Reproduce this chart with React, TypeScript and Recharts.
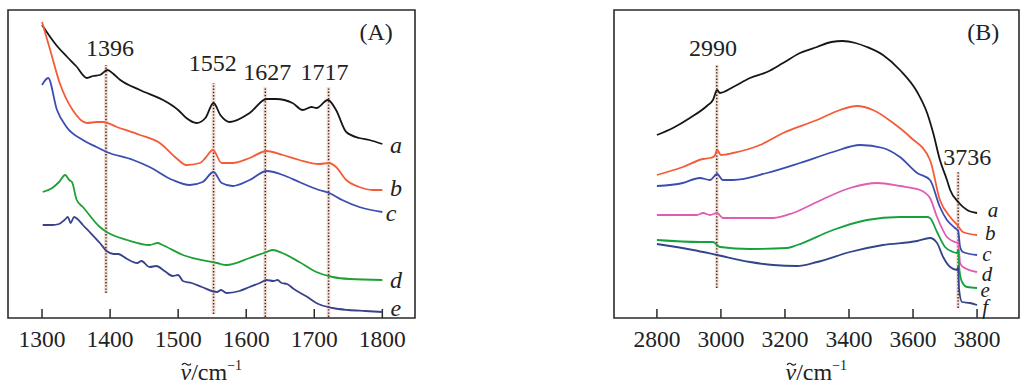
import React from 'react';
import { LineChart, Line, XAxis, YAxis, ReferenceLine, ReferenceDot, ReferenceArea } from 'recharts';

const FONT = '"Liberation Serif","Times New Roman",Times,serif';

// ---------- Panel A (1300-1800 cm-1) ----------
const ticksA = [1300, 1400, 1500, 1600, 1700, 1800];
const A_a: [number, number][] = [[1300,293],[1312,281],[1322,272],[1337,261],[1350,252],[1366,240],[1375,242],[1385,243],[1396,248],[1405,244],[1415,238],[1444,228],[1483,216],[1500,208],[1512,200],[1527,195],[1540,200],[1552,215],[1562,203],[1576,196],[1605,205],[1630,219],[1644,219],[1668,215],[1683,208],[1696,211],[1703,210],[1720,218],[1732,208],[1747,186],[1766,180],[1781,178],[1800,174]];
const A_b: [number, number][] = [[1300,296],[1312,268],[1326,235],[1345,208],[1366,195],[1380,196],[1390,196],[1410,191],[1444,183],[1473,175],[1497,160],[1512,153],[1532,155],[1540,160],[1551,168],[1564,155],[1580,155],[1605,160],[1630,167],[1654,163],[1678,158],[1707,154],[1722,155],[1732,151],[1747,138],[1766,131],[1786,128],[1800,128]];
const A_c: [number, number][] = [[1300,233],[1309,240],[1322,208],[1336,191],[1360,178],[1380,171],[1395,166],[1434,158],[1458,151],[1492,138],[1517,133],[1536,136],[1552,146],[1564,135],[1580,132],[1605,138],[1630,147],[1654,143],[1678,136],[1707,128],[1722,125],[1741,118],[1766,111],[1800,106]];
const A_d: [number, number][] = [[1301,126],[1315,130],[1325,136],[1334,143],[1340,138],[1344,136],[1351,118],[1360,111],[1385,91],[1395,86],[1425,78],[1458,73],[1470,75],[1477,73],[1507,63],[1557,55],[1571,53],[1605,60],[1630,66],[1639,68],[1653,65],[1678,56],[1703,46],[1727,41],[1752,39],[1800,38]];
const A_e: [number, number][] = [[1301,93],[1315,93],[1325,94],[1333,98],[1338,101],[1342,95],[1347,101],[1352,99],[1360,93],[1370,86],[1385,75],[1395,67],[1405,64],[1412,64],[1425,59],[1440,55],[1446,57],[1458,51],[1468,52],[1480,47],[1492,42],[1500,43],[1507,37],[1520,35],[1535,31],[1557,26],[1563,28],[1571,25],[1590,27],[1605,31],[1620,35],[1630,38],[1640,37],[1646,38],[1652,35],[1660,34],[1670,29],[1690,21],[1703,15],[1727,10],[1750,8],[1775,7],[1800,6]];
const peaksA = [
  { text: '1396', x: 1394, y1: 25, y2: 253, lx: 1400, ly: 270 },
  { text: '1552', x: 1552, y1: 4, y2: 235, lx: 1551, ly: 255 },
  { text: '1627', x: 1628, y1: 1, y2: 231, lx: 1631, ly: 246 },
  { text: '1717', x: 1721, y1: 1, y2: 231, lx: 1715, ly: 246 },
];
const curveLabelsA = [
  { t: 'a', x: 1820, y: 173 },
  { t: 'b', x: 1820, y: 130 },
  { t: 'c', x: 1813, y: 105 },
  { t: 'd', x: 1820, y: 38 },
  { t: 'e', x: 1820, y: 10 },
];

// ---------- Panel B (2800-3800 cm-1) ----------
const ticksB = [2800, 3000, 3200, 3400, 3600, 3800];
const B_a: [number, number][] = [[2800,183],[2850,190],[2903,200],[2956,212],[2975,218],[2988,228],[2997,225],[3038,231],[3091,240],[3144,246],[3194,255],[3247,265],[3300,271],[3345,276],[3380,277],[3420,275],[3456,271],[3506,263],[3559,248],[3613,226],[3644,205],[3663,185],[3684,158],[3706,138],[3716,128],[3741,116],[3769,108],[3800,105]];
const B_b: [number, number][] = [[2800,143],[2881,151],[2944,159],[2966,160],[2980,162],[2988,168],[3000,163],[3038,165],[3122,173],[3194,185],[3300,198],[3372,208],[3425,212],[3475,208],[3538,195],[3591,181],[3653,158],[3684,118],[3716,101],[3738,93],[3756,86],[3800,83]];
const B_c: [number, number][] = [[2800,132],[2881,135],[2934,140],[2966,138],[2988,144],[3006,138],[3038,138],[3144,145],[3247,155],[3350,166],[3435,173],[3506,170],[3559,161],[3613,145],[3653,138],[3684,111],[3706,98],[3731,90],[3741,87],[3747,71],[3756,66],[3800,63]];
const B_d: [number, number][] = [[2800,103],[2925,103],[2944,105],[2966,103],[2988,105],[3006,100],[3091,100],[3163,100],[3225,105],[3300,116],[3403,130],[3488,135],[3559,132],[3622,128],[3653,120],[3675,101],[3706,81],[3731,76],[3741,75],[3747,55],[3756,51],[3800,46]];
const B_e: [number, number][] = [[2800,78],[2934,76],[2975,76],[2997,71],[3091,69],[3206,70],[3238,73],[3350,88],[3456,98],[3559,101],[3644,101],[3653,100],[3675,86],[3700,71],[3725,66],[3738,65],[3741,68],[3744,51],[3753,36],[3769,31],[3800,30]];
const B_f: [number, number][] = [[2800,74],[2913,68],[2988,63],[3091,56],[3163,53],[3238,52],[3300,56],[3403,66],[3506,73],[3613,77],[3653,80],[3675,75],[3694,61],[3716,51],[3738,48],[3741,51],[3744,28],[3753,16],[3778,15],[3800,13]];
const peaksB = [
  { text: '2990', x: 2987, y1: 30, y2: 253, lx: 2975, ly: 270 },
  { text: '3736', x: 3741, y1: 10, y2: 146, lx: 3769, ly: 161 },
];
const curveLabelsB = [
  { t: 'a', x: 3850, y: 108 },
  { t: 'b', x: 3841, y: 85 },
  { t: 'c', x: 3831, y: 64 },
  { t: 'd', x: 3831, y: 44 },
  { t: 'e', x: 3825, y: 28 },
  { t: 'f', x: 3825, y: 11 },
];

const Y_DOMAIN: [number, number] = [0, 308];
const toPts = (arr: [number, number][]) => arr.map(([wn, v]) => ({ wn, v }));

const INK = '#2a2a2a';

const TickLabel = (props: any) => {
  const { x, y, payload } = props;
  return (
    <text x={x} y={y + 29} textAnchor="middle" fontFamily={FONT} fontSize={23.5} fill="#222">
      {payload.value}
    </text>
  );
};

const AxisTitle = (props: any) => {
  const vb = props.viewBox || { x: 0, y: 0, width: 0, height: 0 };
  const cx = vb.x + vb.width / 2;
  const by = vb.y + 62;
  const sx = cx - 31;
  const tx = sx + 6;
  const ty = by - 16;
  return (
    <g>
      <text x={sx} y={by} textAnchor="start" fontFamily={FONT} fontSize={24} fill="#222">
        <tspan fontStyle="italic">{'\u03BD'}</tspan>
        <tspan>/cm</tspan>
        <tspan dy={-10} fontSize={14}>{'\u22121'}</tspan>
      </text>
      <path
        d={`M ${tx - 4.5} ${ty + 1} q 2.2 -3 4.5 -0.8 t 4.5 -0.6`}
        fill="none"
        stroke="#222"
        strokeWidth={1.2}
      />
    </g>
  );
};

const makeText = (text: string, italic: boolean, size = 24) => (p: any) => (
  <text
    x={p.cx}
    y={p.cy}
    textAnchor="middle"
    dominantBaseline="central"
    fontFamily={FONT}
    fontSize={size}
    fontStyle={italic ? 'italic' : 'normal'}
    fill="#222"
  >
    {text}
  </text>
);

type Series = { data: [number, number][]; color: string; key: string };

function Panel(props: {
  left: number;
  mLeft: number;
  mRight: number;
  domain: [number, number];
  ticks: number[];
  series: Series[];
  peaks: { text: string; x: number; y1: number; y2: number; lx: number; ly: number }[];
  labels: { t: string; x: number; y: number }[];
  labelSize: number;
  tag: { t: string; x: number; y: number };
}) {
  const { left, mLeft, mRight, domain, ticks, series, peaks, labels, labelSize, tag } = props;
  return (
    <div style={{ position: 'absolute', left, top: 0 }}>
      <LineChart width={430} height={391} margin={{ top: 10, right: mRight, bottom: 0, left: mLeft }}>
        <XAxis
          xAxisId="b"
          type="number"
          dataKey="wn"
          domain={domain}
          ticks={ticks}
          interval={0}
          allowDataOverflow
          height={73}
          tickLine={false}
          tickSize={0}
          tickMargin={0}
          tick={<TickLabel />}
          axisLine={false}
          label={{ content: <AxisTitle /> } as any}
        />
        <YAxis yAxisId="l" type="number" domain={Y_DOMAIN} allowDataOverflow width={0} tick={false} tickLine={false} axisLine={false} />
        <ReferenceArea
          xAxisId="b"
          yAxisId="l"
          x1={domain[0]}
          x2={domain[1]}
          y1={Y_DOMAIN[0]}
          y2={Y_DOMAIN[1]}
          fill="none"
          fillOpacity={0}
          stroke={INK}
          strokeWidth={1.6}
          ifOverflow="visible"
        />
        {ticks.map((t) => (
          <ReferenceLine
            key={'tk' + t}
            xAxisId="b"
            yAxisId="l"
            segment={[{ x: t, y: 0 }, { x: t, y: 9 }]}
            stroke={INK}
            strokeWidth={1.5}
            ifOverflow="visible"
          />
        ))}
        {peaks.map((p) => (
          <ReferenceLine
            key={'h' + p.text}
            xAxisId="b"
            yAxisId="l"
            segment={[{ x: p.x, y: p.y1 }, { x: p.x, y: p.y2 }]}
            stroke="#f4e0d8"
            strokeWidth={4}
            ifOverflow="visible"
          />
        ))}
        {peaks.map((p) => (
          <ReferenceLine
            key={'d' + p.text}
            xAxisId="b"
            yAxisId="l"
            segment={[{ x: p.x, y: p.y1 }, { x: p.x, y: p.y2 }]}
            stroke="#3d2b22"
            strokeWidth={1.5}
            strokeDasharray="1.4 1.8"
            ifOverflow="visible"
          />
        ))}
        {series.map((s) => (
          <Line
            key={s.key}
            xAxisId="b"
            yAxisId="l"
            data={toPts(s.data)}
            dataKey="v"
            type="monotone"
            stroke={s.color}
            strokeWidth={1.8}
            dot={false}
            activeDot={false}
            isAnimationActive={false}
          />
        ))}
        {peaks.map((p) => (
          <ReferenceDot key={'t' + p.text} xAxisId="b" yAxisId="l" x={p.lx} y={p.ly} r={0} ifOverflow="visible" shape={makeText(p.text, false)} />
        ))}
        {labels.map((l) => (
          <ReferenceDot key={'c' + l.t} xAxisId="b" yAxisId="l" x={l.x} y={l.y} r={0} ifOverflow="visible" shape={makeText(l.t, true, labelSize)} />
        ))}
        <ReferenceDot xAxisId="b" yAxisId="l" x={tag.x} y={tag.y} r={0} ifOverflow="visible" shape={makeText(tag.t, false)} />
      </LineChart>
    </div>
  );
}

export default function App() {
  const seriesA: Series[] = [
    { key: 'a', data: A_a, color: '#161616' },
    { key: 'b', data: A_b, color: '#f45c38' },
    { key: 'c', data: A_c, color: '#3a4db0' },
    { key: 'd', data: A_d, color: '#1ea034' },
    { key: 'e', data: A_e, color: '#38438c' },
  ];
  const seriesB: Series[] = [
    { key: 'a', data: B_a, color: '#161616' },
    { key: 'b', data: B_b, color: '#f45c38' },
    { key: 'c', data: B_c, color: '#3a4db0' },
    { key: 'd', data: B_d, color: '#e05cb2' },
    { key: 'e', data: B_e, color: '#16a040' },
    { key: 'f', data: B_f, color: '#33458a' },
  ];
  return (
    <div style={{ position: 'absolute', left: 0, top: 0, width: 1030, height: 391, background: '#fff', overflow: 'hidden' }}>
      <Panel
        left={0}
        mLeft={8}
        mRight={15}
        domain={[1250, 1848]}
        ticks={ticksA}
        series={seriesA}
        peaks={peaksA}
        labels={curveLabelsA}
        labelSize={24}
        tag={{ t: '(A)', x: 1791, y: 286 }}
      />
      <Panel
        left={600}
        mLeft={14}
        mRight={11}
        domain={[2666, 3931]}
        ticks={ticksB}
        series={seriesB}
        peaks={peaksB}
        labels={curveLabelsB}
        labelSize={21}
        tag={{ t: '(B)', x: 3819, y: 286 }}
      />
    </div>
  );
}
